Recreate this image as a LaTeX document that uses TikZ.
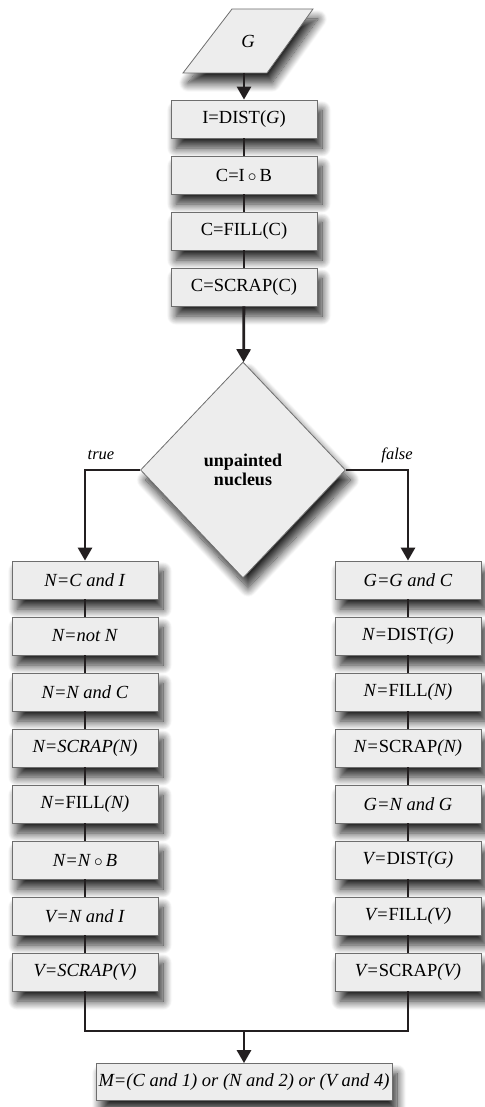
\documentclass[tikz,border=0pt]{standalone}
\usepackage{fontspec}
\setmainfont{Liberation Serif}
\usetikzlibrary{arrows.meta,shapes.geometric,shadows.blur}
\definecolor{boxfill}{HTML}{EDEDED}
\definecolor{boxline}{HTML}{6E6E6E}
\definecolor{flowline}{HTML}{231F20}
\tikzset{
  shade/.style={blur shadow={shadow xshift=5pt, shadow yshift=-10pt, shadow blur radius=9pt, shadow blur steps=14, shadow opacity=85}},
  stepbox/.style={draw=boxline, line width=0.8pt, fill=boxfill, shade, minimum width=146pt, minimum height=38pt, inner sep=0pt, font=\fontsize{18.5}{20}\selectfont},
  decision/.style={diamond, draw=boxline, line width=0.8pt, fill=boxfill, shade, minimum width=205pt, minimum height=216pt, aspect=0.95, inner sep=0pt, align=center, font=\fontsize{18}{19}\selectfont\bfseries},
  flow/.style={line width=2.8pt, draw=flowline},
  go/.style={flow, -{Triangle[width=14pt,length=13pt]}},
  branch/.style={font=\fontsize{16.5}{18}\selectfont\itshape}
}
\begin{document}
\begin{tikzpicture}[x=1pt,y=-1pt]
\useasboundingbox (0,0) rectangle (484,1107);

\draw[draw=boxline, line width=0.8pt, fill=boxfill, shade] (183,73) -- (232,9) -- (313,9) -- (267,73) -- cycle;
\node[font=\fontsize{18.5}{20}\selectfont] (g) at (248,41) {\textit{G}};
\coordinate (gbot) at (244,73);

\node[stepbox] (b1) at (244,119) {I=DIST(\textit{G})};
\node[stepbox] (b2) at (244,175) {C=I\,$\circ$\,B};
\node[stepbox] (b3) at (244,231) {C=FILL(C)};
\node[stepbox] (b4) at (244,287) {C=SCRAP(C)};

\node[decision] (d) at (243,470) {unpainted\\nucleus};

\node[stepbox] (l1) at (85,580) {\textit{N=C and I}};
\node[stepbox] (l2) at (85,636) {\textit{N=not N}};
\node[stepbox] (l3) at (85,692) {\textit{N=N and C}};
\node[stepbox] (l4) at (85,748) {\textit{N=SCRAP(N)}};
\node[stepbox] (l5) at (85,804) {\textit{N=}FILL\textit{(N)}};
\node[stepbox] (l6) at (85,860) {\textit{N=N}\,$\circ$\,\textit{B}};
\node[stepbox] (l7) at (85,916) {\textit{V=N and I}};
\node[stepbox] (l8) at (85,972) {\textit{V=SCRAP(V)}};

\node[stepbox] (r1) at (408,580) {\textit{G=G and C}};
\node[stepbox] (r2) at (408,636) {\textit{N=}DIST\textit{(G)}};
\node[stepbox] (r3) at (408,692) {\textit{N=}FILL\textit{(N)}};
\node[stepbox] (r4) at (408,748) {\textit{N=}SCRAP\textit{(N)}};
\node[stepbox] (r5) at (408,804) {\textit{G=N and G}};
\node[stepbox] (r6) at (408,860) {\textit{V=}DIST\textit{(G)}};
\node[stepbox] (r7) at (408,916) {\textit{V=}FILL\textit{(V)}};
\node[stepbox] (r8) at (408,972) {\textit{V=}SCRAP\textit{(V)}};

\node[stepbox, minimum width=296pt, minimum height=37pt] (m) at (244,1082) {\textit{M=(C and 1) or (N and 2) or (V and 4)}};

\node[branch] (t) at (101,455) {true};
\node[branch] (f) at (397,455) {false};
\coordinate (join) at (244,1031);

\draw[go] (gbot) -- (b1);
\draw[flow] (b1) -- (b2);
\draw[flow] (b2) -- (b3);
\draw[flow] (b3) -- (b4);
\draw[go] (b4) -- (d);

\draw[go] (d.west) -| (l1);
\draw[go] (d.east) -| (r1);

\draw[flow] (l1) -- (l2);
\draw[flow] (l2) -- (l3);
\draw[flow] (l3) -- (l4);
\draw[flow] (l4) -- (l5);
\draw[flow] (l5) -- (l6);
\draw[flow] (l6) -- (l7);
\draw[flow] (l7) -- (l8);

\draw[flow] (r1) -- (r2);
\draw[flow] (r2) -- (r3);
\draw[flow] (r3) -- (r4);
\draw[flow] (r4) -- (r5);
\draw[flow] (r5) -- (r6);
\draw[flow] (r6) -- (r7);
\draw[flow] (r7) -- (r8);

\draw[flow] (l8) |- (join) -| (r8);
\draw[go] (join) -- (m);
\end{tikzpicture}
\end{document}
